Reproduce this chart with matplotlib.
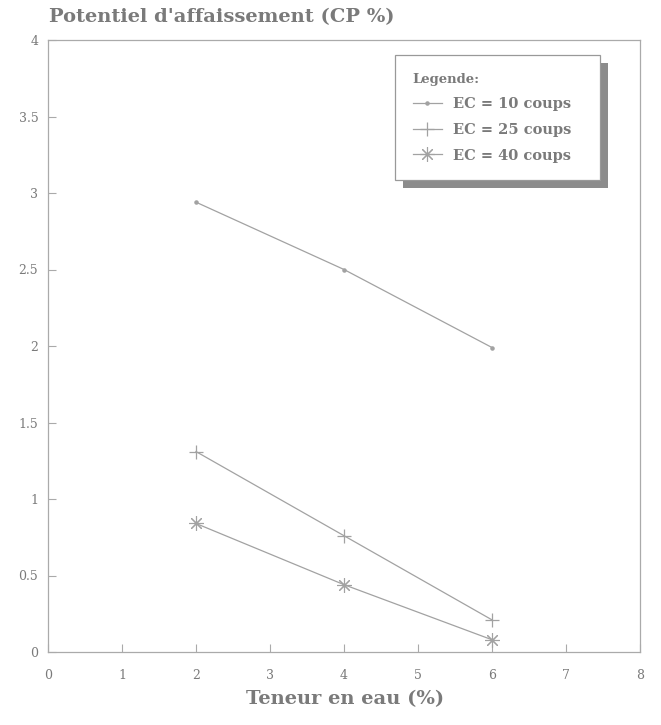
import matplotlib
matplotlib.use("Agg")
import matplotlib.pyplot as plt
from matplotlib.patches import Rectangle
from matplotlib.transforms import IdentityTransform

# ---- data ----
teneur = [2, 4, 6]
cp_10 = [2.94, 2.50, 1.99]
cp_25 = [1.31, 0.76, 0.21]
cp_40 = [0.84, 0.44, 0.08]
labels = ["EC = 10 coups", "EC = 25 coups", "EC = 40 coups"]
xticks = [0, 1, 2, 3, 4, 5, 6, 7, 8]
yticks = [0, 0.5, 1, 1.5, 2, 2.5, 3, 3.5, 4]
ytick_labels = ["0", "0.5", "1", "1.5", "2", "2.5", "3", "3.5", "4"]

TXT = "#7a7a7a"
LINE = "#a2a2a2"
SERIF = "DejaVu Serif"

fig = plt.figure(figsize=(6.61, 7.25), dpi=100)
ax = fig.add_axes([48/661, 1-652/725, 592/661, 612/725])

ax.plot(teneur, cp_10, color=LINE, lw=0.9, marker='.', ms=4.5, label=labels[0])
ax.plot(teneur, cp_25, color=LINE, lw=0.9, marker='+', ms=10.5, mew=0.9, label=labels[1])
ax.plot(teneur, cp_40, color=LINE, lw=0.9, marker=(8, 2, 0), ms=10.5, mew=0.8, label=labels[2])

ax.set_xlim(0, 8)
ax.set_ylim(0, 4)
ax.set_xticks(xticks)
ax.set_xticklabels([str(v) for v in xticks])
ax.set_yticks(yticks)
ax.set_yticklabels(ytick_labels)
ax.tick_params(axis='x', direction='in', length=6, width=0.8, color="#aaaaaa",
               labelcolor=TXT, labelsize=9, pad=12)
ax.tick_params(axis='y', direction='in', length=6, width=0.8, color="#aaaaaa",
               labelcolor=TXT, labelsize=9, pad=7)
for lab in ax.get_xticklabels() + ax.get_yticklabels():
    lab.set_family(SERIF)
for sp in ax.spines.values():
    sp.set_color("#aaaaaa")
    sp.set_linewidth(0.9)

fig.text(49/661, 1-17/725, "Potentiel d'affaissement (CP %)", family=SERIF,
         weight='bold', fontsize=14, color=TXT, ha='left', va='center')
fig.text(345/661, 1-699/725, "Teneur en eau (%)", family=SERIF,
         weight='bold', fontsize=14, color=TXT, ha='center', va='center')

x0 = (395-48)/592
y1 = (652-55)/612
w = (600-395)/592
h = (178-55)/612
leg = ax.legend(loc='upper left', bbox_to_anchor=(x0, y1 - h, w, h), mode='expand',
                borderaxespad=0, fancybox=False, framealpha=1,
                edgecolor="#999999", title="Legende:", alignment='left',
                prop={'family': SERIF, 'weight': 'bold', 'size': 10.5},
                title_fontproperties={'family': SERIF, 'weight': 'bold', 'size': 9.5},
                handlelength=2.0, handletextpad=0.8, labelspacing=0.8,
                borderpad=1.2)
leg.get_frame().set_linewidth(0.9)
for t in leg.get_texts():
    t.set_color(TXT)
leg.get_title().set_color(TXT)
leg.set_zorder(10)

fig.canvas.draw()
bb = leg.get_window_extent()
shadow = Rectangle((bb.x0 + 8, bb.y0 - 8), bb.width, bb.height,
                   transform=IdentityTransform(), facecolor="#8c8c8c",
                   edgecolor='none', zorder=9, clip_on=False)
ax.add_patch(shadow)

fig.savefig("out.png", dpi=100)
